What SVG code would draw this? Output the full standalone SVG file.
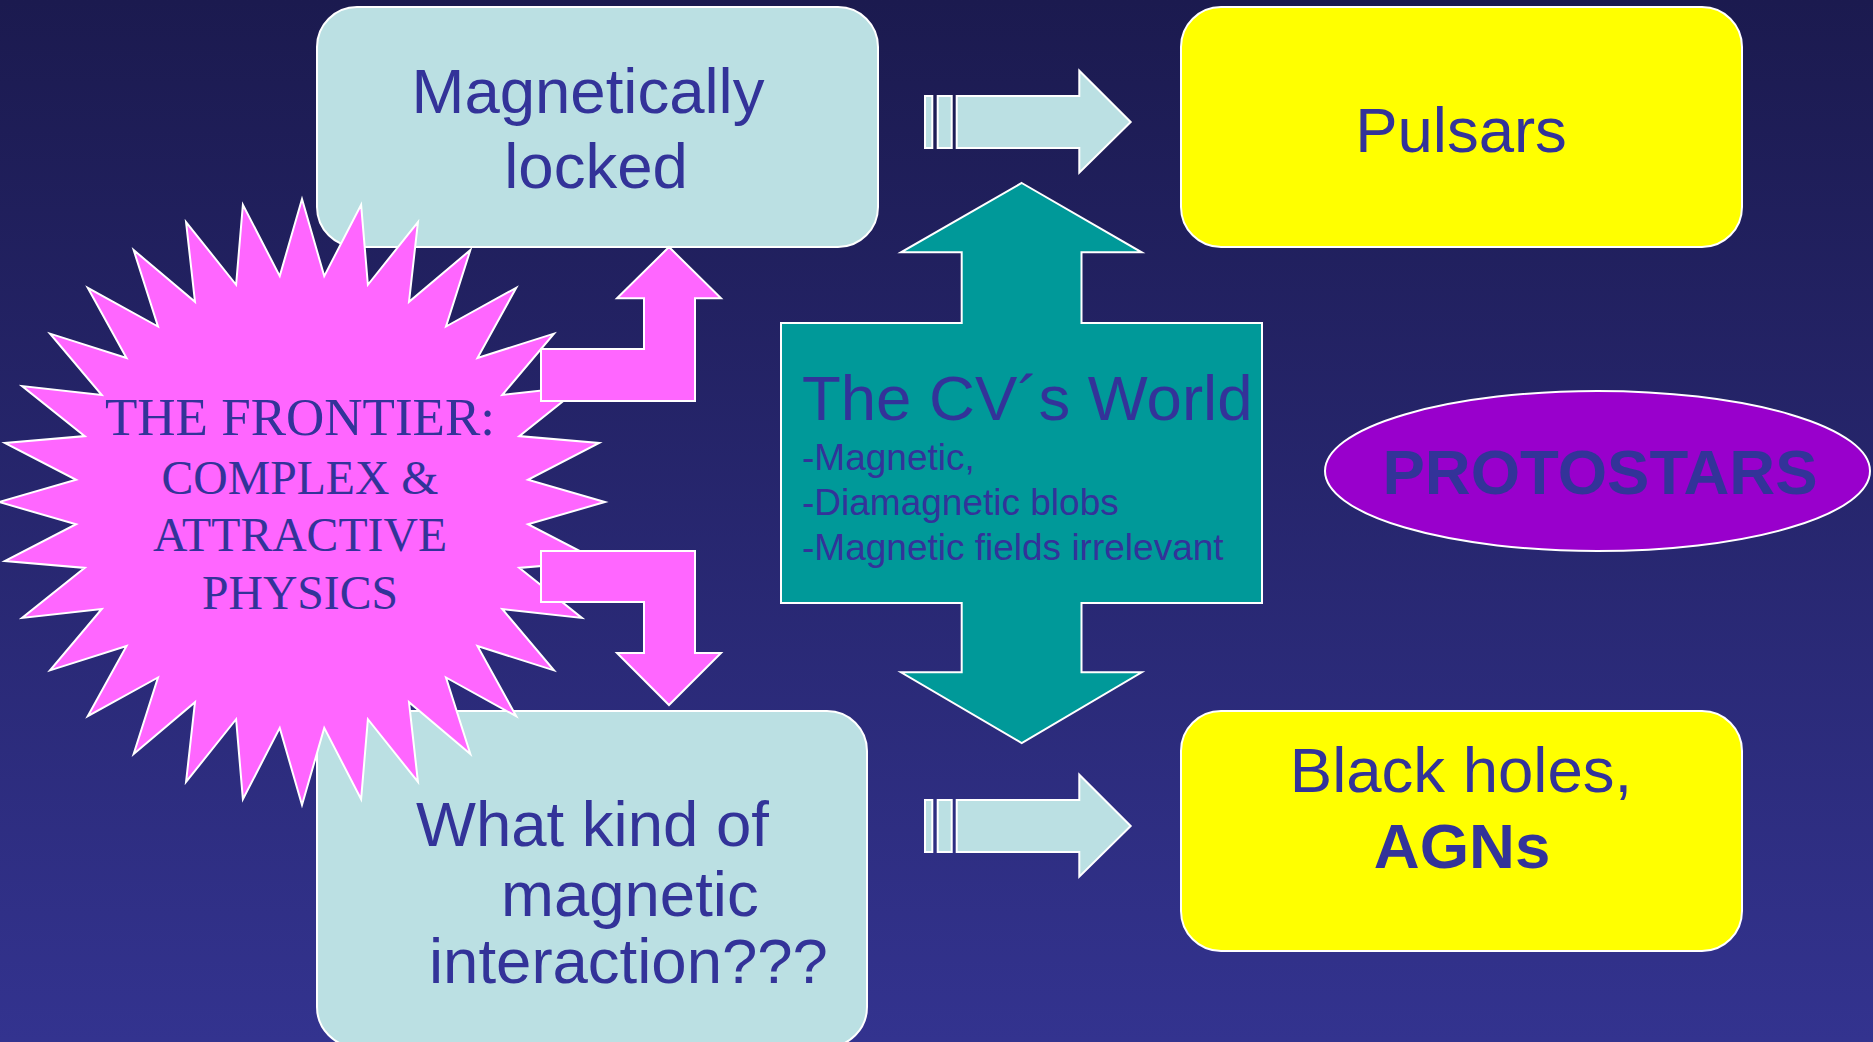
<svg xmlns="http://www.w3.org/2000/svg" width="1873" height="1042" viewBox="0 0 1873 1042">
<defs>
<linearGradient id="bg" x1="0" y1="0" x2="0" y2="1">
<stop offset="0" stop-color="#1b1a4f"/>
<stop offset="1" stop-color="#33338f"/>
</linearGradient>
<style>
.sh{stroke:#ffffff;stroke-width:2;stroke-linejoin:miter}
.light{fill:#bbe0e3}
.yel{fill:#ffff00}
.pink{fill:#ff66ff}
.teal{fill:#009999}
.purp{fill:#9900cc}
.t{font-family:"Liberation Sans",Arial,sans-serif;fill:#333399;font-size:63.5px}
.tc{text-anchor:middle}
.b{font-weight:bold}
.small{font-size:37px}
.serif{font-family:"Liberation Serif","Times New Roman",serif;fill:#333399;text-anchor:middle}
</style>
</defs>
<rect x="0" y="0" width="1873" height="1042" fill="url(#bg)"/>

<g id="node-magnetically-locked">
<rect class="sh light" x="317" y="7" width="561" height="240" rx="40" ry="40"/>
<text class="t tc" x="588" y="113">Magnetically</text>
<text class="t tc" x="596" y="188">locked</text>
</g>

<g id="node-pulsars">
<rect class="sh yel" x="1181" y="7" width="561" height="240" rx="40" ry="40"/>
<text class="t tc" x="1461" y="152">Pulsars</text>
</g>

<g id="node-what-kind">
<rect class="sh light" x="317" y="711" width="550" height="336" rx="40" ry="40"/>
<text class="t" x="416" y="846">What kind of</text>
<text class="t" x="501" y="916">magnetic</text>
<text class="t" x="429" y="983">interaction???</text>
</g>

<g id="node-black-holes">
<rect class="sh yel" x="1181" y="711" width="561" height="240" rx="40" ry="40"/>
<text class="t tc" x="1461" y="792">Black holes,</text>
<text class="t tc b" x="1462" y="868">AGNs</text>
</g>

<g id="node-frontier">
<polygon class="sh pink" points="302,199 324.25,276.09 361.11,204.82 367.89,284.77 417.95,222.06 409.01,301.8 470.34,250.06 446.01,326.53 516.25,287.75 477.47,357.99 553.94,333.66 502.2,394.99 581.94,386.05 519.23,436.11 599.18,442.89 527.91,479.75 605,502 527.91,524.25 599.18,561.11 519.23,567.89 581.94,617.95 502.2,609.01 553.94,670.34 477.47,646.01 516.25,716.25 446.01,677.47 470.34,753.94 409.01,702.2 417.95,781.94 367.89,719.23 361.11,799.18 324.25,727.91 302,805 279.75,727.91 242.89,799.18 236.11,719.23 186.05,781.94 194.99,702.2 133.66,753.94 157.99,677.47 87.75,716.25 126.53,646.01 50.06,670.34 101.8,609.01 22.06,617.95 84.77,567.89 4.82,561.11 76.09,524.25 -1,502 76.09,479.75 4.82,442.89 84.77,436.11 22.06,386.05 101.8,394.99 50.06,333.66 126.53,357.99 87.75,287.75 157.99,326.53 133.66,250.06 194.99,301.8 186.05,222.06 236.11,284.77 242.89,204.82 279.75,276.09"/>
<text class="serif" x="300" y="435" font-size="53">THE FRONTIER:</text>
<text class="serif" x="300" y="494" font-size="47.7">COMPLEX &amp;</text>
<text class="serif" x="300" y="551" font-size="47.7">ATTRACTIVE</text>
<text class="serif" x="300" y="609" font-size="47.7">PHYSICS</text>
</g>

<g id="node-cv-world">
<polygon class="sh teal" points="1021.7,183 1141.7,252.3 1081.5,252.3 1081.5,323 1262,323 1262,603 1081.5,603 1081.5,672.3 1141.7,672.3 1021.7,743 901,672.3 961.7,672.3 961.7,603 781,603 781,323 961.7,323 961.7,252.3 901,252.3"/>
<text class="t" x="802" y="420">The CV´s World</text>
<text class="t small" x="802" y="470">-Magnetic,</text>
<text class="t small" x="802" y="515">-Diamagnetic blobs</text>
<text class="t small" x="802" y="560">-Magnetic fields irrelevant</text>
</g>

<g id="node-protostars">
<ellipse class="sh purp" cx="1597.5" cy="471" rx="272.5" ry="80"/>
<text class="t tc b" x="1600" y="494">PROTOSTARS</text>
</g>

<g id="connectors">
<polygon class="sh pink" points="541,349 644,349 644,298.3 617,298.3 669,247 721,298.3 695,298.3 695,401 541,401"/>
<polygon class="sh pink" points="541,551 695,551 695,653 721,653 669,705 617,653 644,653 644,602 541,602"/>
<g id="arrow-top">
<rect class="sh light" x="925" y="96" width="7.3" height="52"/>
<rect class="sh light" x="937.7" y="96" width="14" height="52"/>
<polygon class="sh light" points="956.7,96 1079.3,96 1079.3,70.7 1130.7,122 1079.3,172.7 1079.3,148 956.7,148"/>
</g>
<g id="arrow-bottom">
<rect class="sh light" x="925" y="800" width="7.3" height="52"/>
<rect class="sh light" x="937.7" y="800" width="14" height="52"/>
<polygon class="sh light" points="956.7,800 1079.3,800 1079.3,774.7 1130.7,826 1079.3,876.7 1079.3,852 956.7,852"/>
</g>
</g>
</svg>
